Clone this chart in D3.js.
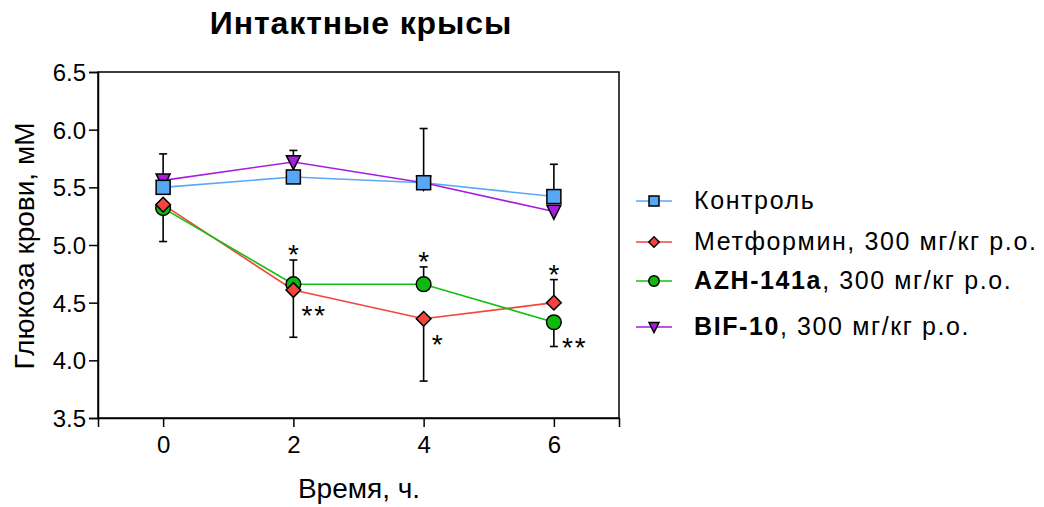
<!DOCTYPE html>
<html><head><meta charset="utf-8">
<script src="https://cdn.jsdelivr.net/npm/d3@7"></script>
<style>body{margin:0;background:#fff}svg{font-family:"Liberation Sans",Arial,sans-serif}</style>
</head><body><svg id="c" width="1044" height="507"></svg>
<script>
const times = [0, 2, 4, 6];
const yTicks = [3.5, 4.0, 4.5, 5.0, 5.5, 6.0, 6.5];
const control   = [5.50, 5.59, 5.54, 5.42];
const metformin = [5.35, 4.61, 4.36, 4.50];
const azh       = [5.32, 4.66, 4.66, 4.33];
const bif       = [5.56, 5.72, 5.54, 5.29];
// visible error bar extents (up / down)
const controlErrUp   = [0.29, 0, 0.47, 0.28];
const controlErrDown = [0, 0, 0, 0];
const metforminErrUp   = [0, 0, 0, 0.20];
const metforminErrDown = [0, 0.41, 0.54, 0];
const azhErrUp   = [0, 0.21, 0.15, 0];
const azhErrDown = [0.29, 0, 0, 0.21];
const bifErrUp   = [0, 0.10, 0, 0];
const bifErrDown = [0, 0, 0, 0];
const seriesNames = ["Контроль", "Метформин", "AZH-141a", "BIF-10"];
const legendBold = ["", "", "AZH-141a", "BIF-10"];
const legendRest = ["Контроль", "Метформин, 300 мг/кг р.о.", ", 300 мг/кг р.о.", ", 300 мг/кг р.о."];
// significance marks: series index, time index, label, side
const marks = [
  {s: 2, t: 1, label: "*",  side: "above"},
  {s: 1, t: 1, label: "**", side: "below"},
  {s: 2, t: 2, label: "*",  side: "above"},
  {s: 1, t: 2, label: "*",  side: "below"},
  {s: 1, t: 3, label: "*",  side: "above"},
  {s: 2, t: 3, label: "**", side: "below"}
];

const colors = ["#5aa8f7", "#f2453d", "#12c012", "#a51fdc"];
const fills  = ["#58a6f6", "#f2453d", "#10b910", "#a51fdc"];
const shapes = ["square", "diamond", "circle", "triangle"];
const data = [control, metformin, azh, bif];
const errUp = [controlErrUp, metforminErrUp, azhErrUp, bifErrUp];
const errDown = [controlErrDown, metforminErrDown, azhErrDown, bifErrDown];

const svg = d3.select("#c");
const L = 98, R = 619, T = 72, B = 418;
const x = d3.scaleLinear().domain([-1, 7]).range([L, R]);
const y = d3.scaleLinear().domain([3.5, 6.5]).range([B, T]);

// title
svg.append("text").attr("x", 361).attr("y", 34).attr("text-anchor", "middle")
  .attr("font-size", 32).attr("font-weight", "bold").attr("letter-spacing", 0.9).text("Интактные крысы");

// frame
svg.append("rect").attr("x", L).attr("y", T).attr("width", R - L).attr("height", B - T)
  .attr("fill", "none").attr("stroke", "#000").attr("stroke-width", 1.5);

const yAxis = svg.append("g").attr("transform", `translate(${L},0)`)
  .call(d3.axisLeft(y).tickValues(yTicks).tickFormat(d3.format(".1f")).tickSize(9).tickPadding(3));
const xAxis = svg.append("g").attr("transform", `translate(0,${B})`)
  .call(d3.axisBottom(x).tickValues(times).tickSize(9).tickPadding(6));
[yAxis, xAxis].forEach(g => {
  g.select(".domain").attr("stroke", "#000").attr("stroke-width", 1.5);
  g.selectAll(".tick line").attr("stroke", "#000").attr("stroke-width", 1.5);
  g.selectAll(".tick text").attr("font-size", 24).attr("fill", "#000")
    .attr("font-family", '"Liberation Sans",Arial,sans-serif');
});
yAxis.selectAll(".tick text").attr("dy", "0.36em");
xAxis.selectAll(".tick text").attr("y", 35).attr("dy", 0);

// axis titles
svg.append("text").attr("x", 359).attr("y", 498).attr("text-anchor", "middle")
  .attr("font-size", 28).text("Время, ч.");
svg.append("text").attr("transform", "translate(34,246) rotate(-90)").attr("text-anchor", "middle")
  .attr("font-size", 28).text("Глюкоза крови, мМ");

function marker(g, shape, size, fill) {
  const h = size / 2;
  if (shape === "square") g.append("rect").attr("x", -h).attr("y", -h).attr("width", size).attr("height", size);
  else if (shape === "diamond") g.append("path").attr("d", `M0,${-h*1.05}L${h*1.05},0L0,${h*1.05}L${-h*1.05},0Z`);
  else if (shape === "circle") g.append("circle").attr("r", h * 1.05);
  else g.append("path").attr("d", `M${-h},${-h*0.9}L${h},${-h*0.9}L0,${h*1.1}Z`);
  g.selectAll("*").attr("fill", fill).attr("stroke", "#000").attr("stroke-width", 1.5);
}

// lines
const line = d3.line().x((d, i) => x(times[i])).y(d => y(d));
data.forEach((vals, s) => {
  svg.append("path").attr("d", line(vals)).attr("fill", "none")
    .attr("stroke", colors[s]).attr("stroke-width", 1.6);
});

// error bars
data.forEach((vals, s) => {
  vals.forEach((v, i) => {
    const cx = x(times[i]);
    [[errUp[s][i], 1], [errDown[s][i], -1]].forEach(([e, dir]) => {
      if (!e) return;
      const ye = y(v + dir * e);
      svg.append("line").attr("x1", cx).attr("x2", cx).attr("y1", y(v)).attr("y2", ye)
        .attr("stroke", "#000").attr("stroke-width", 1.6);
      svg.append("line").attr("x1", cx - 4).attr("x2", cx + 4).attr("y1", ye).attr("y2", ye)
        .attr("stroke", "#000").attr("stroke-width", 1.6);
    });
  });
});

// markers (draw order: bif, control, azh, metformin)
[3, 0, 2, 1].forEach(s => {
  data[s].forEach((v, i) => {
    const g = svg.append("g").attr("transform", `translate(${x(times[i])},${y(v)})`);
    marker(g, shapes[s], 14, fills[s]);
  });
});

// significance marks
marks.forEach(m => {
  const v = data[m.s][m.t];
  const cx = x(times[m.t]);
  if (m.side === "above") {
    const top = y(v + errUp[m.s][m.t]);
    svg.append("text").attr("x", cx).attr("y", top - 12 + 16).attr("text-anchor", "middle")
      .attr("font-size", 28).text(m.label);
  } else {
    svg.append("text").attr("x", cx + 8).attr("y", y(v) + 19 + 16).attr("text-anchor", "start")
      .attr("font-size", 28).attr("letter-spacing", 2).text(m.label);
  }
});

// legend
const rowsY = [201, 242, 281, 327];
seriesNames.forEach((n, s) => {
  const ly = rowsY[s];
  svg.append("line").attr("x1", 636).attr("x2", 672).attr("y1", ly).attr("y2", ly)
    .attr("stroke", colors[s]).attr("stroke-width", 1.4);
  const g = svg.append("g").attr("transform", `translate(654,${ly})`);
  marker(g, shapes[s], 10, fills[s]);
  const t = svg.append("text").attr("x", 694).attr("y", ly + 8).attr("font-size", 25).attr("letter-spacing", 1.6);
  if (legendBold[s]) t.append("tspan").attr("font-weight", "bold").text(legendBold[s]);
  t.append("tspan").text(legendRest[s]);
});
</script></body></html>
